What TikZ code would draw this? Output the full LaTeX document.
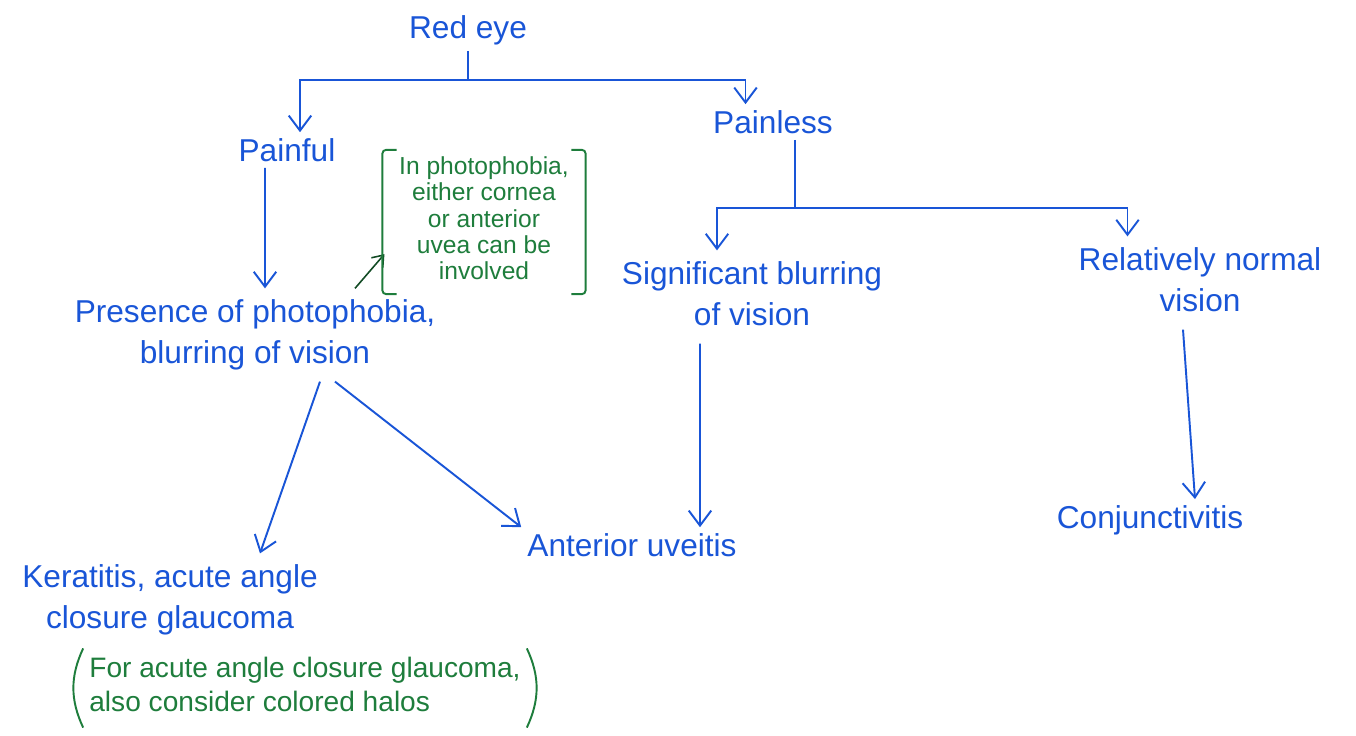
\documentclass[tikz,border=0pt]{standalone}
\usepackage{fontspec}
\setmainfont{Liberation Sans}
\usetikzlibrary{positioning,arrows.meta,calc}
\definecolor{inkblue}{RGB}{25,85,215}
\definecolor{inkgreen}{RGB}{30,125,60}

\begin{document}
\begin{tikzpicture}[x=0.02cm,y=-0.02cm,
    >={Straight Barb[length=3mm,width=4.5mm]},
    every node/.style={inkblue,font=\fontsize{18}{23}\selectfont},
    link/.style={draw=inkblue,line width=1.1pt},
    note/.style={inkgreen,font=\fontsize{14}{15}\selectfont},
    bracket/.style={draw=inkgreen,line width=1.1pt,rounded corners=2pt}]

    \useasboundingbox (0,0) rectangle (1356,736);

    \node (redeye) at (468,30) {Red eye};
    \node (painful) at (287,150) {Painful};
    \node (painless) at (773,122) {Painless};
    \node (photo) at (255,335) {\begin{tabular}{c} Presence of photophobia, \\ blurring of vision \end{tabular}};
    \node[note] (note1) at (484,222) {\begin{tabular}{c} In photophobia, \\ either cornea \\ or anterior \\ uvea can be \\ involved \end{tabular}};
    \node (sigblur) at (752,297) {\begin{tabular}{c} Significant blurring \\ of vision \end{tabular}};
    \node (relnorm) at (1200,283) {\begin{tabular}{c} Relatively normal \\ vision \end{tabular}};
    \node (kerat) at (170,600) {\begin{tabular}{c} Keratitis, acute angle \\ closure glaucoma \end{tabular}};
    \node[note,font=\fontsize{16}{19}\selectfont] (note2) at (305,688) {\begin{tabular}{l} For acute angle closure glaucoma, \\ also consider colored halos \end{tabular}};
    \node (uveitis) at (632,545) {Anterior uveitis};
    \node (conj) at (1150,520) {Conjunctivitis};

    \coordinate (split1) at (468,80);
    \coordinate (split2) at (795,208);

    \draw[link] (redeye.south) -- (split1);
    \draw[link,->] (split1) -| ([xshift=0.26cm]painful.north);
    \draw[link,->] (split1) -| ([xshift=-0.55cm]painless.north);

    \draw[link] (painless.south -| split2) -- (split2);
    \draw[link,->] (split2) -| ([xshift=-0.7cm]sigblur.north);
    \draw[link,->] (split2) -| ([xshift=-1.45cm]relnorm.north);

    \draw[link,->] ([xshift=-0.44cm]painful.south) -- ([xshift=0.2cm]photo.north);
    \draw[draw=black!40!inkgreen,line width=0.9pt,-{Straight Barb[length=2mm,width=3mm]}] ([xshift=2cm]photo.north) -- ($(note1.south west)+(2,-40)$);

    \draw[link,->] ([xshift=1.3cm]photo.south) -- ([xshift=1.8cm]kerat.north);
    \draw[link,->] ([xshift=1.6cm]photo.south) -- (uveitis.north west);
    \draw[link,->] ([xshift=-1.04cm]sigblur.south) -- ([xshift=1.36cm]uveitis.north);
    \draw[link,->] ([xshift=-0.34cm]relnorm.south) -- ([xshift=0.9cm]conj.north);

    \draw[bracket] ([xshift=8pt]note1.north west) -- (note1.north west) -- (note1.south west) -- ([xshift=8pt]note1.south west);
    \draw[bracket] ([xshift=-8pt]note1.north east) -- (note1.north east) -- (note1.south east) -- ([xshift=-8pt]note1.south east);
    \draw[bracket] ([xshift=6pt]note2.north west) to[bend right=25] ([xshift=6pt]note2.south west);
    \draw[bracket] ([xshift=-6pt]note2.north east) to[bend left=25] ([xshift=-6pt]note2.south east);

\end{tikzpicture}
\end{document}
